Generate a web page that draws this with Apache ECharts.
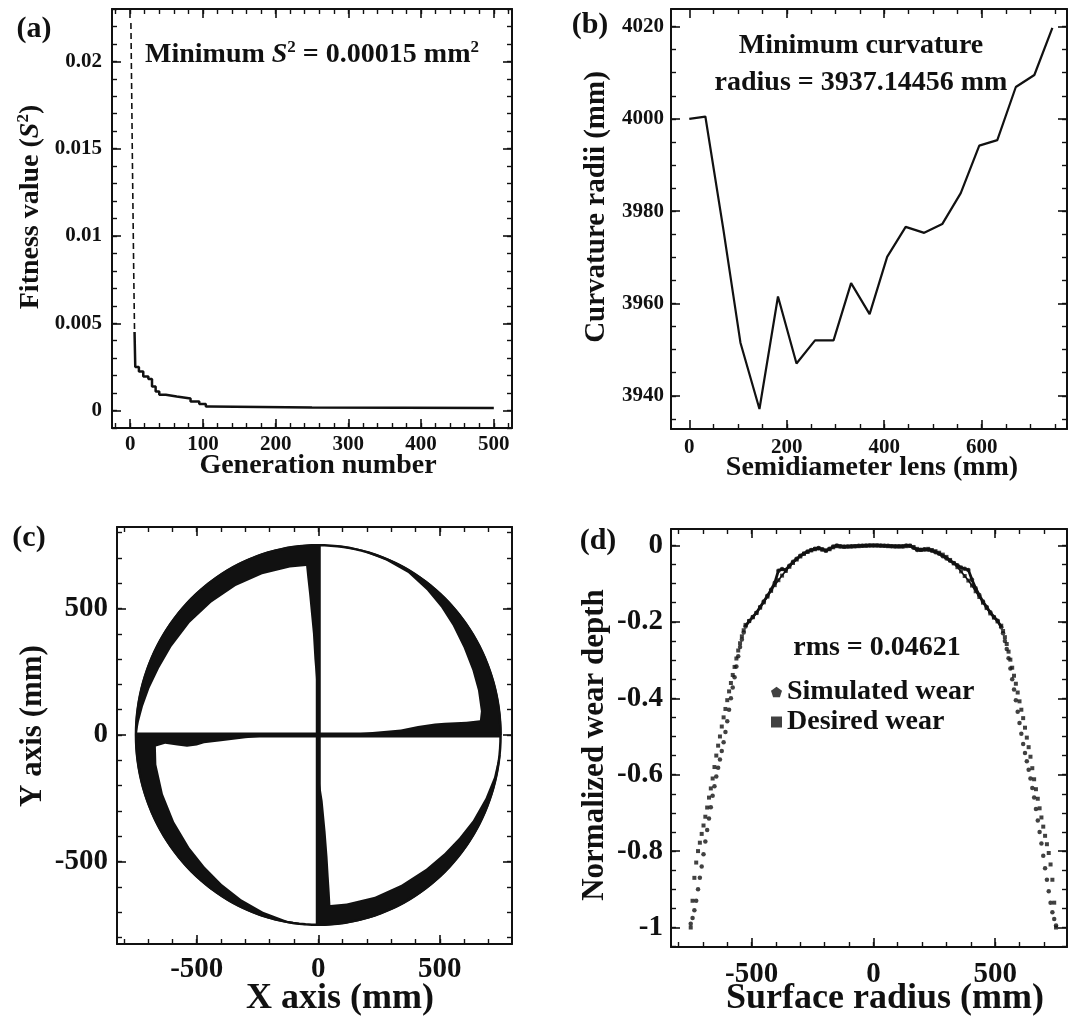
<!DOCTYPE html>
<html>
<head>
<meta charset="utf-8">
<script src="https://cdn.jsdelivr.net/npm/echarts@6/dist/echarts.min.js"></script>
<style>
  html, body { margin: 0; padding: 0; background: #fff; }
  #chart { width: 1091px; height: 1021px; }
</style>
</head>
<body>
<div id="chart"></div>
<script>
const INK = '#111';
const SERIF = 'Liberation Serif';

// ---------- (a) convergence of the genetic search ----------
const generation = [1, 2, 3, 4, 5, 6, 7, 12, 18, 25, 30, 35, 40, 49, 64, 83, 95, 104, 109, 250, 500];
const fitness = [0.0222, 0.0185, 0.0145, 0.0110, 0.0075, 0.0045, 0.0025, 0.00224, 0.00195, 0.0018, 0.00138,
                 0.00109, 0.0009, 0.0008, 0.00069, 0.00052, 0.00038, 0.00023, 0.00018, 0.00015, 0.00015];
const generationTicks = [0, 100, 200, 300, 400, 500];
const fitnessTicks = [0, 0.005, 0.01, 0.015, 0.02];

// ---------- (b) curvature radius along the lens ----------
const semidiameter = [0, 33, 70, 105, 144, 182, 220, 258, 296, 332, 370, 406, 444, 482, 519, 557, 595, 632, 670, 708, 745];
const curvatureRadius = [4000, 4000.5, 3976, 3951.5, 3937.14456, 3961.5, 3947, 3952, 3952, 3964.4, 3957.7,
                         3970.1, 3976.6, 3975.3, 3977.2, 3983.9, 3994.2, 3995.4, 4006.9, 4009.5, 4019.7];
const semidiameterTicks = [0, 200, 400, 600];
const curvatureTicks = [3940, 3960, 3980, 4000, 4020];

// ---------- (c) tool dwell pattern on the lens (mm) ----------
const lensRadius = 750;
const strokeAlongX = [[-750, 0], [750, 0]];
const strokeAlongY = [[0, -750], [0, 750]];
// inner boundary of each dwell band, starting on the axis and ending at the rim
const dwellNW = [[0, 80], [-5, 150], [-10, 230], [-16, 300], [-22, 400], [-30, 480], [-38, 560], [-45, 620], [-50, 668],
                 [-117, 662], [-231, 635], [-340, 589], [-440, 524], [-529, 444], [-604, 349], [-655, 264],
                 [-694, 186], [-721, 114], [-738, 52], [-748, 0]];
const dwellNE = [[70, 0], [200, 10], [340, 22], [410, 36], [480, 45], [520, 48], [610, 52], [665, 58],
                 [669, 94], [657, 176], [634, 256], [598, 345], [553, 433], [505, 505], [447, 572], [370, 640],
                 [279, 690], [181, 726], [78, 745]];
const dwellSE = [[0, -120], [8, -200], [18, -260], [30, -380], [38, -480], [43, -560], [47, -620], [50, -672],
                 [117, -666], [233, -639], [342, -592], [444, -529], [519, -467], [580, -406], [636, -338],
                 [688, -250], [723, -167], [744, -78]];
const dwellSW = [[-160, 0], [-230, -7], [-300, -13], [-400, -25], [-470, -33], [-500, -42], [-540, -46], [-580, -42],
                 [-630, -35], [-668, -45], [-666, -117], [-639, -233], [-593, -343], [-530, -445], [-468, -520],
                 [-397, -589], [-317, -649], [-227, -699], [-129, -734], [-52, -747]];
const planeTicks = [-500, 0, 500];

// ---------- (d) wear profile ----------
const surfaceRadius = [
  -750, -742.5, -735, -727.5, -720, -712.5, -705, -697.5, -690, -682.5, -675, -667.5, -660, -652.5, -645, -637.5,
  -630, -622.5, -615, -607.5, -600, -592.5, -585, -577.5, -570, -562.5, -555, -547.5, -540, -532.5, -525,
  -510, -495, -480, -465, -450, -435, -420, -405, -390, -375, -360, -345, -330, -315, -300, -285, -270, -255, -240,
  -225, -210, -195, -180, -165, -150, -135, -120, -105, -90, -75, -60, -45, -30, -15, 0, 15, 30, 45, 60, 75, 90,
  105, 120, 135, 150, 165, 180, 195, 210, 225, 240, 255, 270, 285, 300, 315, 330, 345, 360, 375, 390, 405, 420,
  435, 450, 465, 480, 495, 510,
  525, 532.5, 540, 547.5, 555, 562.5, 570, 577.5, 585, 592.5, 600, 607.5, 615, 622.5, 630, 637.5, 645, 652.5,
  660, 667.5, 675, 682.5, 690, 697.5, 705, 712.5, 720, 727.5, 735, 742.5, 750];
const desiredWear = [
  -1.000, -0.930, -0.870, -0.830, -0.800, -0.778, -0.755, -0.733, -0.710, -0.686, -0.660, -0.636, -0.610, -0.580,
  -0.550, -0.524, -0.500, -0.474, -0.450, -0.428, -0.405, -0.382, -0.360, -0.339, -0.318, -0.296, -0.275, -0.256,
  -0.238, -0.222, -0.208,
  -0.198, -0.188, -0.177, -0.163, -0.149, -0.134, -0.119, -0.104, -0.091, -0.079, -0.067, -0.056, -0.046, -0.037,
  -0.029, -0.022, -0.017, -0.013, -0.010, -0.008, -0.011, -0.013, -0.010, -0.005, -0.002, -0.003, -0.004, -0.003,
  -0.003, -0.002, -0.002, -0.001, -0.001, 0.000, 0.000, 0.000, -0.001, -0.001, -0.002, -0.002, -0.003, -0.003,
  -0.003, -0.002, -0.001, -0.004, -0.009, -0.012, -0.011, -0.009, -0.012, -0.015, -0.019, -0.024, -0.030, -0.038,
  -0.047, -0.057, -0.068, -0.080, -0.092, -0.105, -0.120, -0.135, -0.150, -0.164, -0.178, -0.189, -0.199,
  -0.210, -0.224, -0.240, -0.258, -0.278, -0.299, -0.320, -0.341, -0.362, -0.385, -0.408, -0.430, -0.452, -0.477,
  -0.503, -0.528, -0.553, -0.583, -0.612, -0.638, -0.663, -0.688, -0.712, -0.736, -0.760, -0.782, -0.805, -0.835,
  -0.875, -0.935, -1.000];
const simulatedWear = [
  -0.990, -0.975, -0.955, -0.930, -0.900, -0.870, -0.840, -0.808, -0.775, -0.745, -0.715, -0.685, -0.655, -0.630,
  -0.605, -0.582, -0.560, -0.538, -0.515, -0.488, -0.460, -0.430, -0.400, -0.372, -0.345, -0.317, -0.290, -0.266,
  -0.246, -0.228, -0.212,
  -0.198, -0.187, -0.176, -0.161, -0.147, -0.132, -0.116, -0.098, -0.066, -0.062, -0.064, -0.053, -0.043, -0.035,
  -0.027, -0.021, -0.016, -0.012, -0.009, -0.007, -0.010, -0.014, -0.009, -0.003, 0.000, -0.002, -0.003, -0.003,
  -0.002, -0.002, -0.001, -0.001, 0.000, 0.000, 0.000, 0.000, 0.000, -0.001, -0.001, -0.002, -0.002, -0.002,
  -0.002, 0.000, -0.001, -0.006, -0.012, -0.011, -0.010, -0.011, -0.014, -0.018, -0.022, -0.028, -0.034, -0.040,
  -0.046, -0.052, -0.058, -0.061, -0.064, -0.090, -0.112, -0.130, -0.147, -0.161, -0.175, -0.187, -0.197,
  -0.214, -0.230, -0.250, -0.271, -0.295, -0.322, -0.350, -0.377, -0.405, -0.435, -0.465, -0.493, -0.520, -0.543,
  -0.565, -0.587, -0.610, -0.635, -0.660, -0.690, -0.720, -0.750, -0.780, -0.812, -0.845, -0.875, -0.905, -0.935,
  -0.960, -0.978, -0.995];
const depthTicks = [-1, -0.8, -0.6, -0.4, -0.2, 0];

// ---------- helpers ----------
function steps(from, to, step) {
  const out = [];
  for (let v = from; v <= to + 1e-9; v += step) out.push(Math.round(v * 1e6) / 1e6);
  return out;
}

// four axes per direction: labelled side, its minor ticks, mirrored side, its minor ticks
function frameAxes(dim, gridIndex, cfg) {
  const near = dim === 'x' ? 'bottom' : 'left';
  const far = dim === 'x' ? 'top' : 'right';
  const base = { type: 'value', gridIndex, min: cfg.min, max: cfg.max, splitLine: { show: false } };
  const frame = { show: true, onZero: false, lineStyle: { color: INK, width: 2 } };
  const noLine = { show: false, onZero: false };
  const major = { show: true, inside: true, length: 9, lineStyle: { color: INK, width: 1.6 }, customValues: cfg.major };
  const minor = { show: true, inside: true, length: 5, lineStyle: { color: INK, width: 1.4 }, customValues: cfg.minor };
  return [
    Object.assign({}, base, { position: near, axisLine: frame, axisTick: major,
      axisLabel: { show: true, customValues: cfg.major, margin: cfg.margin, fontFamily: SERIF, fontWeight: 'bold',
                   fontSize: cfg.fontSize, color: INK, showMinLabel: true, showMaxLabel: true,
                   formatter: v => String(v) } }),
    Object.assign({}, base, { position: near, axisLine: noLine, axisTick: minor, axisLabel: { show: false } }),
    Object.assign({}, base, { position: far, axisLine: frame, axisTick: major, axisLabel: { show: false } }),
    Object.assign({}, base, { position: far, axisLine: noLine, axisTick: minor, axisLabel: { show: false } })
  ];
}

function dwellBand(points) {
  return function (params, api) {
    if (params.dataIndex !== 0) return null;
    const inner = points.map(p => api.coord(p));
    const first = points[0], last = points[points.length - 1];
    const a0 = Math.atan2(last[1], last[0]);
    let a1 = Math.atan2(first[1], first[0]);
    while (a1 > a0) a1 -= 2 * Math.PI;
    const rim = lensRadius + 4;
    const outer = [];
    for (let a = a0; a > a1; a -= Math.PI / 180) outer.push(api.coord([rim * Math.cos(a), rim * Math.sin(a)]));
    outer.push(api.coord([rim * Math.cos(a1), rim * Math.sin(a1)]));
    return { type: 'polygon', shape: { points: inner.concat(outer) }, style: { fill: INK } };
  };
}

function lensOutline(params, api) {
  if (params.dataIndex !== 0) return null;
  const pts = [];
  for (let d = 0; d <= 360; d += 2) {
    const a = d * Math.PI / 180;
    pts.push(api.coord([lensRadius * Math.cos(a), lensRadius * Math.sin(a)]));
  }
  return { type: 'polyline', shape: { points: pts }, style: { stroke: INK, lineWidth: 2.5, fill: null } };
}

function richStyles(size) {
  return {
    n: { fontFamily: SERIF, fontWeight: 'bold', fontSize: size, fill: INK, lineHeight: size + 4 },
    i: { fontFamily: SERIF, fontWeight: 'bold', fontStyle: 'italic', fontSize: size, fill: INK, lineHeight: size + 4 },
    s: { fontFamily: SERIF, fontWeight: 'bold', fontSize: Math.round(size * 0.62), fill: INK,
         verticalAlign: 'top', lineHeight: Math.round(size * 0.62) }
  };
}

function text(x, y, str, size, extra) {
  extra = extra || {};
  return {
    type: 'text', x, y, silent: true, rotation: extra.vertical ? Math.PI / 2 : 0,
    style: Object.assign({ text: str, fontFamily: SERIF, fontWeight: 'bold', fontSize: size, fill: INK,
                           align: 'center', verticalAlign: 'middle' },
                         extra.rich ? { rich: richStyles(size) } : {},
                         extra.lineHeight ? { lineHeight: extra.lineHeight } : {})
  };
}

// ---------- assembly ----------
const xAxes = [].concat(
  frameAxes('x', 0, { min: -25, max: 525, major: generationTicks, minor: steps(-20, 520, 20), fontSize: 21, margin: 6 }),
  frameAxes('x', 1, { min: -37.5, max: 775, major: semidiameterTicks, minor: steps(50, 750, 50), fontSize: 21, margin: 8 }),
  frameAxes('x', 2, { min: -828, max: 797, major: planeTicks, minor: steps(-800, 700, 100), fontSize: 29, margin: 11 }),
  frameAxes('x', 3, { min: -831, max: 795, major: planeTicks, minor: steps(-800, 700, 100), fontSize: 29, margin: 13 })
);
const yAxes = [].concat(
  frameAxes('y', 0, { min: -0.001, max: 0.023, major: fitnessTicks, minor: steps(-0.001, 0.023, 0.001), fontSize: 21, margin: 10 }),
  frameAxes('y', 1, { min: 3932.8, max: 4023.8, major: curvatureTicks, minor: steps(3935, 4020, 5), fontSize: 21, margin: 7 }),
  frameAxes('y', 2, { min: -826, max: 822, major: planeTicks, minor: steps(-800, 800, 100), fontSize: 29, margin: 9 }),
  frameAxes('y', 3, { min: -1.051, max: 0.043, major: depthTicks, minor: steps(-1.05, 0, 0.05), fontSize: 29, margin: 8 })
);

const minFitness = Math.min.apply(null, fitness);
const minCurvature = Math.min.apply(null, curvatureRadius);
const fitnessPairs = generation.map((g, i) => [g, fitness[i]]);
const desiredPairs = surfaceRadius.map((r, i) => [r, desiredWear[i]]);
const simulatedPairs = surfaceRadius.map((r, i) => [r, simulatedWear[i]]);
// the densely sampled central zone, where the markers run together
const centreStart = surfaceRadius.indexOf(-525), centreEnd = surfaceRadius.indexOf(525) + 1;
const pentagon = 'path://M5,0L10,3.6L8.1,9.5L1.9,9.5L0,3.6Z';

const option = {
  animation: false,
  backgroundColor: '#fff',
  grid: [
    { left: 112, top: 9, width: 400, height: 419 },
    { left: 671, top: 9, width: 396, height: 420 },
    { left: 117, top: 527, width: 395, height: 417 },
    { left: 671, top: 529, width: 396, height: 418 }
  ],
  xAxis: xAxes,
  yAxis: yAxes,
  legend: {
    left: 766, top: 673, orient: 'vertical', itemGap: 2, itemWidth: 11, itemHeight: 11, selectedMode: false,
    textStyle: { fontFamily: SERIF, fontWeight: 'bold', fontSize: 28, color: INK, lineHeight: 28 },
    data: [{ name: 'Simulated wear', icon: pentagon }, { name: 'Desired wear', icon: 'rect' }]
  },
  series: [
    // (a): sparse early generations drawn dashed, the staircase after it solid
    { type: 'line', xAxisIndex: 0, yAxisIndex: 0, data: fitnessPairs.slice(0, 6), showSymbol: false,
      lineStyle: { color: INK, width: 1.6, type: [6, 4] } },
    { type: 'line', xAxisIndex: 0, yAxisIndex: 0, data: fitnessPairs.slice(5), step: 'end', showSymbol: false,
      lineStyle: { color: INK, width: 2.5 } },
    // (b)
    { type: 'line', xAxisIndex: 4, yAxisIndex: 4, data: semidiameter.map((s, i) => [s, curvatureRadius[i]]),
      showSymbol: false, lineStyle: { color: INK, width: 2.2 } },
    // (c)
    { type: 'custom', xAxisIndex: 8, yAxisIndex: 8, data: dwellNW, renderItem: dwellBand(dwellNW), clip: true },
    { type: 'custom', xAxisIndex: 8, yAxisIndex: 8, data: dwellNE, renderItem: dwellBand(dwellNE), clip: true },
    { type: 'custom', xAxisIndex: 8, yAxisIndex: 8, data: dwellSE, renderItem: dwellBand(dwellSE), clip: true },
    { type: 'custom', xAxisIndex: 8, yAxisIndex: 8, data: dwellSW, renderItem: dwellBand(dwellSW), clip: true },
    { type: 'custom', xAxisIndex: 8, yAxisIndex: 8, data: [[0, 0]], renderItem: lensOutline, clip: true },
    { type: 'line', xAxisIndex: 8, yAxisIndex: 8, data: strokeAlongX, showSymbol: false, lineStyle: { color: INK, width: 5 } },
    { type: 'line', xAxisIndex: 8, yAxisIndex: 8, data: strokeAlongY, showSymbol: false, lineStyle: { color: INK, width: 5 } },
    // (d)
    { type: 'line', xAxisIndex: 12, yAxisIndex: 12, data: desiredPairs.slice(centreStart, centreEnd),
      showSymbol: false, lineStyle: { color: INK, width: 1.6 } },
    { type: 'line', xAxisIndex: 12, yAxisIndex: 12, data: simulatedPairs.slice(centreStart, centreEnd),
      showSymbol: false, lineStyle: { color: INK, width: 2.8 } },
    { name: 'Desired wear', type: 'scatter', xAxisIndex: 12, yAxisIndex: 12, symbol: 'rect', symbolSize: 4,
      itemStyle: { color: INK }, data: desiredPairs },
    { name: 'Simulated wear', type: 'scatter', xAxisIndex: 12, yAxisIndex: 12, symbol: 'circle', symbolSize: 4.5,
      itemStyle: { color: INK }, data: simulatedPairs }
  ],
  graphic: [
    text(34, 29, '(a)', 30),
    text(590, 25, '(b)', 30),
    text(29, 538, '(c)', 30),
    text(598, 541, '(d)', 30),
    text(318, 466, 'Generation number', 28),
    text(31, 207, '{n|Fitness value (}{i|S}{s|2}{n|)}', 28, { vertical: true, rich: true }),
    text(312, 55, '{n|Minimum }{i|S}{s|2}{n| = ' + minFitness + ' mm}{s|2}', 28, { rich: true }),
    text(872, 468, 'Semidiameter lens (mm)', 28),
    text(597, 207, 'Curvature radii (mm)', 29, { vertical: true }),
    text(861, 64, 'Minimum curvature\nradius = ' + minCurvature.toFixed(5) + ' mm', 28, { lineHeight: 37 }),
    text(340, 999, 'X axis (mm)', 36),
    text(33, 726, 'Y axis (mm)', 31, { vertical: true }),
    text(885, 999, 'Surface radius (mm)', 36),
    text(595, 745, 'Normalized wear depth', 31, { vertical: true }),
    text(877, 648, 'rms = 0.04621', 28)
  ]
};

const chart = echarts.init(document.getElementById('chart'), null, { renderer: 'canvas' });
chart.setOption(option);
</script>
</body>
</html>
